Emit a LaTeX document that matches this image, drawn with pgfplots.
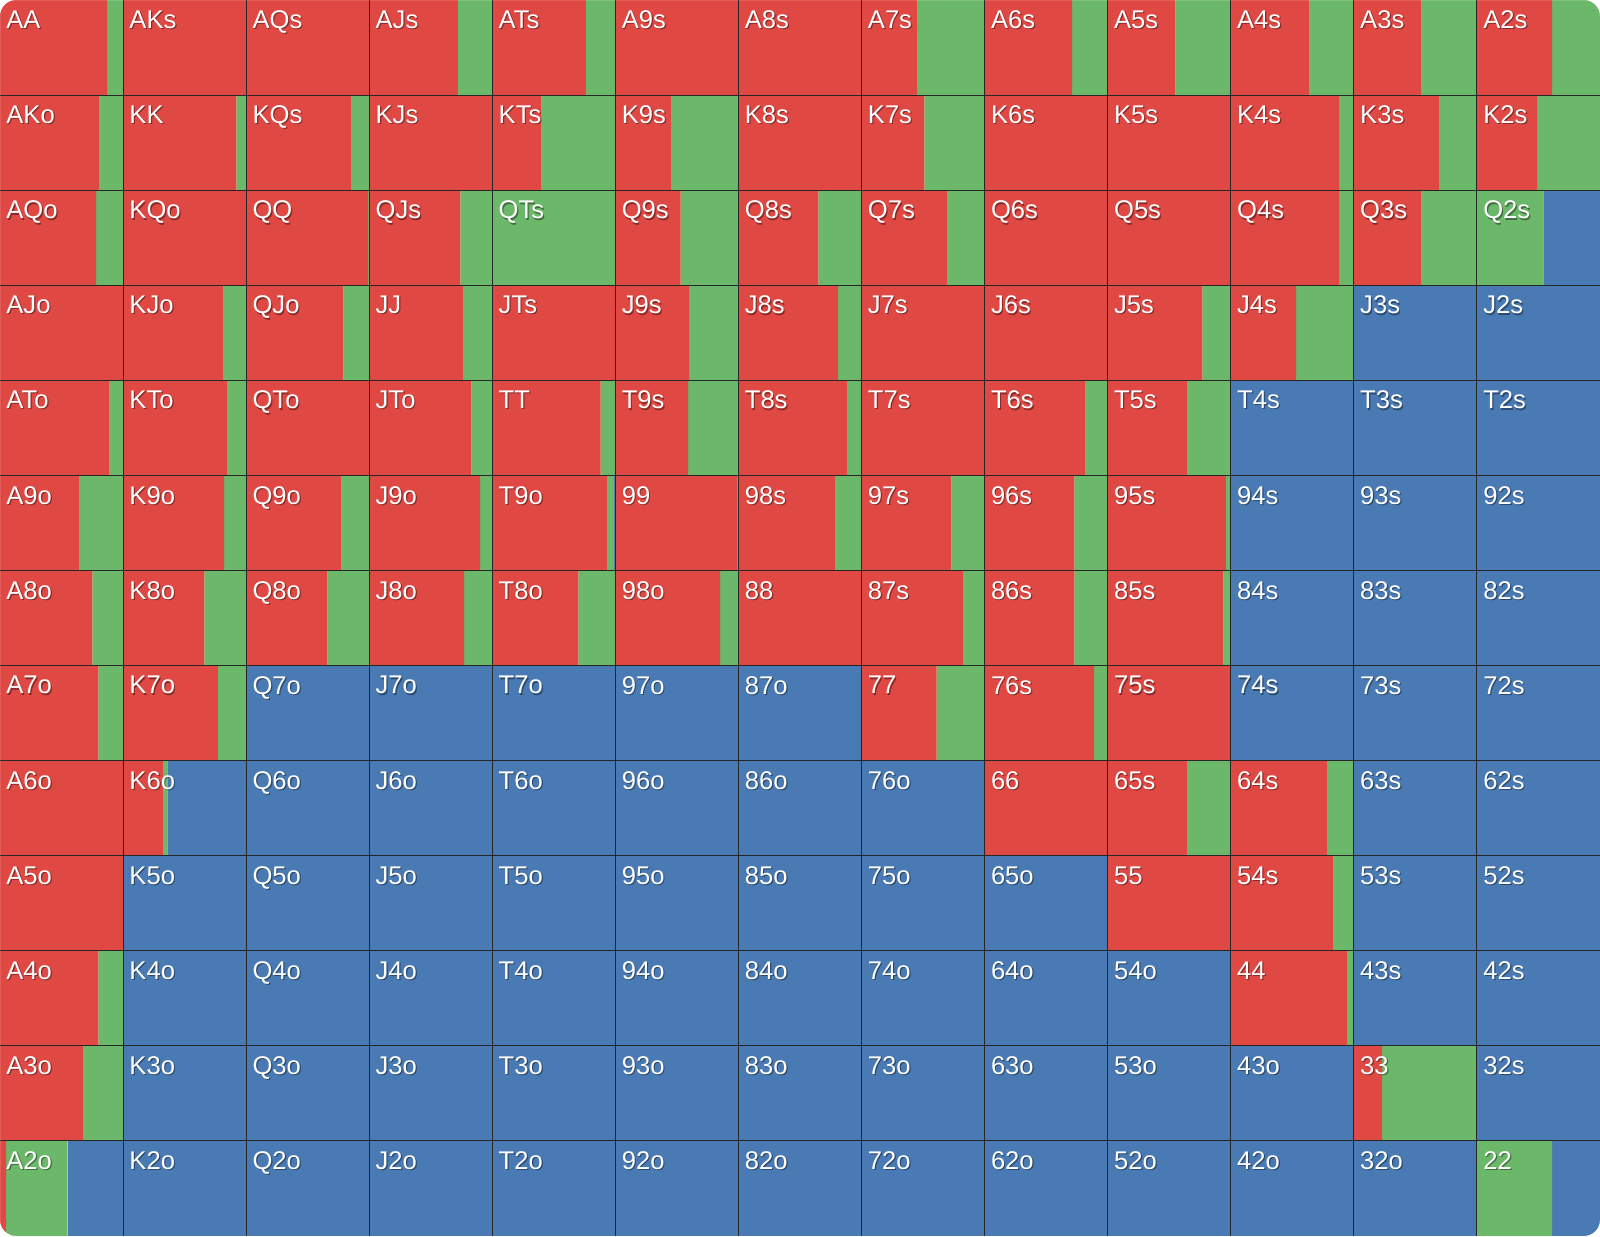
\documentclass[border=0pt]{standalone}
\usepackage{pgfplots}
\pgfplotsset{compat=1.18}
\usepackage{pgfplotstable}
\usepackage{fontspec}
\setmainfont{Liberation Sans}

\definecolor{cred}{HTML}{E04843}
\definecolor{cgreen}{HTML}{6CB86A}
\definecolor{cblue}{HTML}{497AB4}

% share of each hand: r = raise (red), g = call (green), rest = fold (blue)
% rows A..2 from top, columns A..2 from left
\pgfplotstableread{
y    r0   g0   r1   g1   r2   g2   r3   g3   r4   g4   r5   g5   r6   g6   r7   g7   r8   g8   r9   g9   r10  g10  r11  g11  r12  g12
0.5  0.87 0.13 1    0    1    0    0.72 0.28 0.76 0.24 1    0    1    0    0.45 0.55 0.71 0.29 0.55 0.45 0.64 0.36 0.55 0.45 0.61 0.39
1.5  0.81 0.19 0.92 0.08 0.85 0.15 1    0    0.40 0.60 0.45 0.55 1    0    0.51 0.49 1    0    1    0    0.88 0.12 0.69 0.31 0.49 0.51
2.5  0.78 0.22 1    0    0.99 0.01 0.74 0.26 0    1    0.53 0.47 0.65 0.35 0.70 0.30 1    0    1    0    0.88 0.12 0.55 0.45 0    0.54
3.5  1    0    0.81 0.19 0.79 0.21 0.76 0.24 1    0    0.60 0.40 0.81 0.19 1    0    1    0    0.77 0.23 0.53 0.47 0    0    0    0
4.5  0.89 0.11 0.85 0.15 1    0    0.83 0.17 0.88 0.12 0.59 0.41 0.88 0.12 1    0    0.82 0.18 0.65 0.35 0    0    0    0    0    0
5.5  0.64 0.36 0.82 0.18 0.77 0.23 0.90 0.10 0.93 0.06 0.99 0.01 0.79 0.21 0.73 0.27 0.73 0.27 0.96 0.04 0    0    0    0    0    0
6.5  0.75 0.25 0.66 0.34 0.66 0.34 0.77 0.23 0.70 0.30 0.85 0.15 1    0    0.83 0.17 0.73 0.27 0.94 0.06 0    0    0    0    0    0
7.5  0.80 0.20 0.77 0.23 0    0    0    0    0    0    0    0    0    0    0.61 0.39 0.89 0.11 1    0    0    0    0    0    0    0
8.5  1    0    0.33 0.03 0    0    0    0    0    0    0    0    0    0    0    0    1    0    0.65 0.35 0.78 0.22 0    0    0    0
9.5  1    0    0    0    0    0    0    0    0    0    0    0    0    0    0    0    0    0    1    0    0.83 0.17 0    0    0    0
10.5 0.80 0.20 0    0    0    0    0    0    0    0    0    0    0    0    0    0    0    0    0    0    0.95 0.05 0    0    0    0
11.5 0.68 0.32 0    0    0    0    0    0    0    0    0    0    0    0    0    0    0    0    0    0    0    0    0.23 0.77 0    0
12.5 0.05 0.50 0    0    0    0    0    0    0    0    0    0    0    0    0    0    0    0    0    0    0    0    0    0    0    0.61
}\handtable

\def\ranks{{"A","K","Q","J","T","9","8","7","6","5","4","3","2"}}

\begin{document}
\begin{tikzpicture}
\useasboundingbox (0,0) rectangle (400pt,309pt);
\begin{axis}[
  at={(0,0)}, anchor=south west,
  scale only axis, width=400pt, height=309pt,
  xbar stacked, bar width=1,
  xmin=0, xmax=13, ymin=0, ymax=13,
  y dir=reverse,
  axis line style={draw=none},
  xtick={1,...,12}, ytick={1,...,12},
  xticklabels={}, yticklabels={},
  major tick length=0pt,
  grid=major,
  major grid style={draw=black!85, line width=0.25pt},
  axis on top,
]
\pgfplotsinvokeforeach{0,...,12}{
  \addplot[fill=cred, draw=none] table[x=r#1, y=y] {\handtable};
  \addplot[fill=cgreen, draw=none] table[x=g#1, y=y] {\handtable};
  \addplot[fill=cblue, draw=none] table[x expr={1-\thisrow{r#1}-\thisrow{g#1}}, y=y] {\handtable};
}
\end{axis}

\foreach \i in {0,...,12}{
  \foreach \j in {0,...,12}{
    \pgfmathparse{\ranks[\i]}\edef\ri{\pgfmathresult}
    \pgfmathparse{\ranks[\j]}\edef\rj{\pgfmathresult}
    \ifnum\i=\j \edef\lab{\ri\ri}\else
      \ifnum\j>\i \edef\lab{\ri\rj s}\else \edef\lab{\rj\ri o}\fi
    \fi
    \pgfmathsetmacro\px{\j*400/13+1.4}
    \pgfmathsetmacro\py{309-\i*309/13-2.5}
    \node[anchor=north west, inner sep=0pt, text=black, opacity=0.4, font=\fontsize{6.4}{7}\selectfont]
      at (\px pt+0.3pt, \py pt-0.3pt) {\lab};
    \node[anchor=north west, inner sep=0pt, text=white, font=\fontsize{6.4}{7}\selectfont]
      at (\px pt, \py pt) {\lab};
  }
}
% rounded outer corners
\fill[white, even odd rule] (-1pt,-1pt) rectangle (401pt,310pt)
  [rounded corners=4pt] (0,0) rectangle (400pt,309pt);
\end{tikzpicture}
\end{document}
